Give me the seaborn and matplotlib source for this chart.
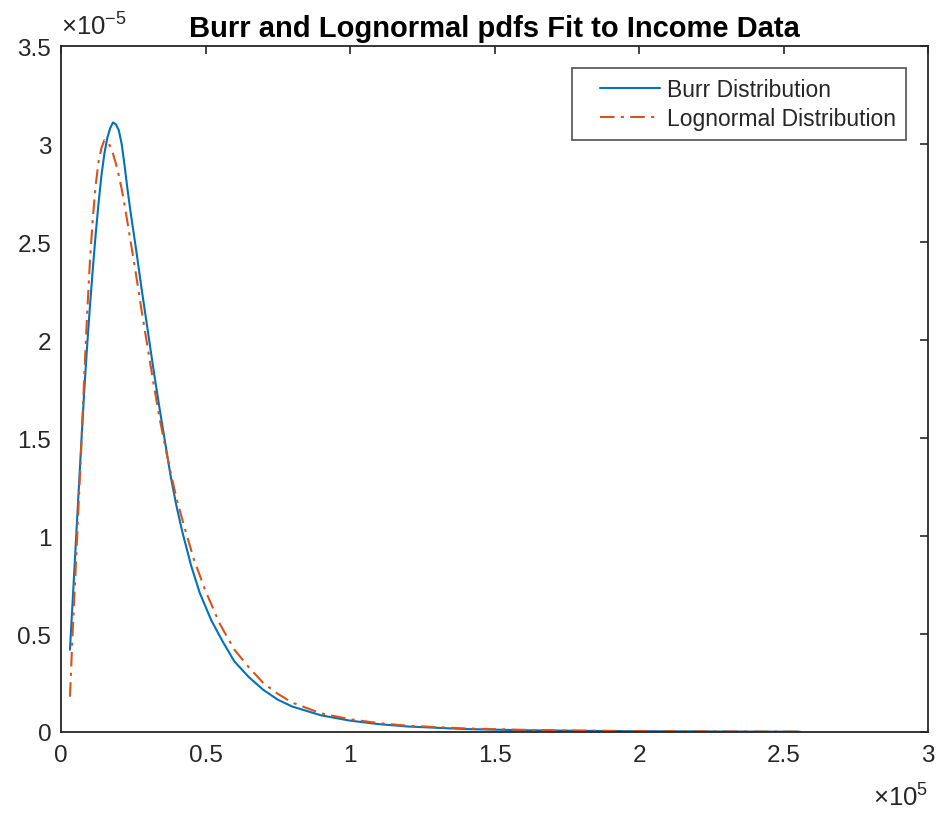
import matplotlib
matplotlib.use("Agg")
import matplotlib.pyplot as plt
from matplotlib.ticker import FuncFormatter
from matplotlib.legend_handler import HandlerLine2D
import seaborn as sns
import pandas as pd

# x in units of 1e5, y in units of 1e-5 (as displayed with the axis multipliers)
burr_x = [0.031, 0.04, 0.05, 0.06, 0.07, 0.08, 0.09, 0.10, 0.11, 0.12, 0.13, 0.14,
          0.15, 0.16, 0.17, 0.18, 0.19, 0.20, 0.21, 0.22, 0.23, 0.24, 0.25, 0.26,
          0.28, 0.30, 0.32, 0.34, 0.36, 0.38, 0.40, 0.42, 0.45, 0.48, 0.52, 0.56,
          0.60, 0.65, 0.70, 0.75, 0.80, 0.90, 1.0, 1.1, 1.2, 1.4, 1.6, 1.8, 2.0,
          2.2, 2.4, 2.557]
burr_y = [0.42, 0.66, 0.93, 1.20, 1.47, 1.73, 1.96, 2.17, 2.36, 2.54, 2.70, 2.84,
          2.95, 3.03, 3.08, 3.11, 3.10, 3.07, 3.00, 2.89, 2.77, 2.66, 2.56, 2.46,
          2.25, 2.05, 1.85, 1.66, 1.48, 1.30, 1.15, 1.02, 0.85, 0.71, 0.57, 0.46,
          0.36, 0.28, 0.215, 0.165, 0.13, 0.085, 0.058, 0.04, 0.028, 0.015, 0.009,
          0.006, 0.004, 0.003, 0.002, 0.0015]

logn_x = [0.031, 0.035, 0.04, 0.05, 0.06, 0.07, 0.08, 0.09, 0.10, 0.11, 0.12, 0.13,
          0.14, 0.15, 0.16, 0.17, 0.18, 0.19, 0.20, 0.21, 0.22, 0.23, 0.24, 0.26,
          0.28, 0.30, 0.32, 0.34, 0.36, 0.38, 0.40, 0.43, 0.46, 0.50, 0.55, 0.60,
          0.65, 0.70, 0.75, 0.80, 0.90, 1.0, 1.1, 1.2, 1.4, 1.6, 1.8, 2.0, 2.2,
          2.4, 2.557]
logn_y = [0.18, 0.32, 0.50, 0.81, 1.13, 1.45, 1.80, 2.12, 2.40, 2.62, 2.79, 2.91,
          2.98, 3.02, 3.01, 2.99, 2.95, 2.90, 2.84, 2.77, 2.69, 2.60, 2.51, 2.33,
          2.14, 1.96, 1.78, 1.61, 1.46, 1.32, 1.19, 1.03, 0.88, 0.72, 0.55, 0.42,
          0.33, 0.25, 0.195, 0.15, 0.095, 0.065, 0.045, 0.032, 0.018, 0.011, 0.007,
          0.0045, 0.003, 0.002, 0.0015]

series_names = ["Burr Distribution", "Lognormal Distribution"]
title_text = "Burr and Lognormal pdfs Fit to Income Data"
x_ticks = [0, 0.5, 1, 1.5, 2, 2.5, 3]
y_ticks = [0, 0.5, 1, 1.5, 2, 2.5, 3, 3.5]

sns.set_style("white")
plt.rcParams["font.family"] = ["Liberation Sans", "DejaVu Sans"]
plt.rcParams["mathtext.fontset"] = "custom"
plt.rcParams["mathtext.rm"] = "Liberation Sans"
plt.rcParams["mathtext.it"] = "Liberation Sans"

blue = "#0072BD"
orange = "#D95319"
axcol = "#262626"

fig = plt.figure(figsize=(9.36, 8.2), dpi=100)
ax = fig.add_axes([61 / 936, 1 - 733 / 820, (928 - 61) / 936, (733 - 47) / 820])

df_b = pd.DataFrame({"x": burr_x, "y": burr_y})
df_l = pd.DataFrame({"x": logn_x, "y": logn_y})
sns.lineplot(data=df_b, x="x", y="y", ax=ax, color=blue, lw=1.5, sort=False,
             estimator=None, label=series_names[0])
sns.lineplot(data=df_l, x="x", y="y", ax=ax, color=orange, lw=1.5, sort=False,
             estimator=None, label=series_names[1])
ax.lines[1].set_dashes([7, 3, 1.5, 3])

ax.set_xlim(0, 3)
ax.set_ylim(0, 3.5)
ax.set_xticks(x_ticks)
ax.set_yticks(y_ticks)
fmt = FuncFormatter(lambda v, p: "%g" % v)
ax.xaxis.set_major_formatter(fmt)
ax.yaxis.set_major_formatter(fmt)
ax.set_xlabel("")
ax.set_ylabel("")
ax.tick_params(direction="in", length=6, width=1.2, colors=axcol, labelsize=17.5,
               top=True, right=True, pad=7)
ax.tick_params(axis="x", pad=9)
for s in ax.spines.values():
    s.set_color(axcol)
    s.set_linewidth(1.3)

ax.set_title(title_text, fontsize=21, fontweight="bold", color="black", pad=7)

hmap = {ln: HandlerLine2D(xpad=0.8) for ln in ax.lines}
leg = ax.legend(loc="upper right", fontsize=16.5, frameon=True, fancybox=False,
                edgecolor=axcol, handlelength=3.4, handletextpad=0.3,
                borderaxespad=0.95, borderpad=0.45, labelspacing=0.25,
                handler_map=hmap)
leg.get_frame().set_linewidth(1.2)
for t in leg.get_texts():
    t.set_color(axcol)

ax.text(0.0, 1.01, r"$\times10^{-5}$", transform=ax.transAxes, fontsize=18.5,
        color=axcol, ha="left", va="bottom")
ax.text(1.0, -0.075, r"$\times10^{5}$", transform=ax.transAxes, fontsize=18.5,
        color=axcol, ha="right", va="top")

fig.savefig("out.png", dpi=100)
